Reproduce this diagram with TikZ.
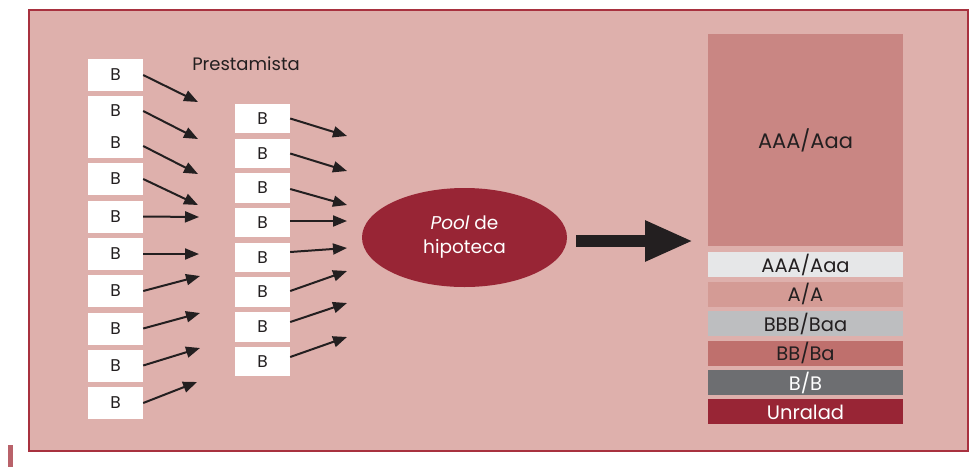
\documentclass[tikz,border=0pt]{standalone}
\usepackage{fontspec}
\setmainfont{Poppins}
\usepackage{tikz}
\usetikzlibrary{arrows.meta,positioning,shapes.geometric}
\definecolor{ink}{HTML}{231F20}
\definecolor{panel}{HTML}{DEB0AC}
\definecolor{frame}{HTML}{A8313F}
\definecolor{stub}{HTML}{B9626A}
\definecolor{wine}{HTML}{982535}
\definecolor{rose}{HTML}{C98683}
\definecolor{cloud}{HTML}{E6E7E8}
\definecolor{blush}{HTML}{D49B95}
\definecolor{silver}{HTML}{BDBEC0}
\definecolor{clay}{HTML}{BF706D}
\definecolor{slate}{HTML}{6D6E71}
\newcommand{\fsz}[2]{\fontsize{#1}{#2}\selectfont}

\begin{document}
\begin{tikzpicture}[
  x=1pt,y=-1pt,
  every node/.style={font=\fsz{17}{20},text=ink},
  bbox/.style={fill=white,minimum width=55pt,minimum height=32pt,inner sep=0pt},
  mbox/.style={bbox,minimum height=29.5pt},
  tier/.style={minimum width=195pt,minimum height=25pt,inner sep=0pt,font=\fsz{19.5}{21}},
  arr/.style={-{Triangle[length=14pt,width=11pt]},draw=ink,line width=2pt},
  bigarr/.style={-{Triangle[length=48pt,width=38pt]},draw=ink,line width=11.5pt}
]
\useasboundingbox (0,0) rectangle (978,467);
\draw[draw=frame,fill=panel,line width=2pt] (29,10) rectangle (968,451);
\fill[stub] (8,445) rectangle (13,467);

% borrowers
\node[bbox] (l1) at (115.5,75) {B};
\node[bbox,minimum height=62pt,align=center,font=\fsz{17}{32}] (l2) at (115.5,127) {B\\B};
\foreach \n/\y in {3/179,4/216.5,5/254,6/291,7/328.5,8/365.5,9/403}
  \node[bbox] (l\n) at (115.5,\y) {B};
\foreach \n/\x/\y in {1/198/102,2/198/139,3/198/174,4/198/205,5/199/217,6/199/254,7/200/276,8/200/313,9/200/348,10/197/382}
  \coordinate (e\n) at (\x,\y);
\draw[arr] (l1.east) -- (e1);
\draw[arr] ([yshift=16pt]l2.east) -- (e2);
\draw[arr] ([yshift=-19pt]l2.east) -- (e3);
\foreach \a/\b in {3/4,4/5,5/6,6/7,7/8,8/9,9/10}
  \draw[arr] (l\a.east) -- (e\b);

\node[font=\fsz{18}{20}] (lender) at (246,64) {Prestamista};

% lenders
\foreach \n/\y in {1/118.5,2/153.5,3/188,4/222.5,5/257.5,6/292,7/327,8/361.5}
  \node[mbox] (m\n) at (262.5,\y) {B};
\foreach \n/\y in {1/136,2/171,3/205,4/221,5/248,6/271,7/303,8/337}
  \coordinate (f\n) at (347,\y);
\foreach \n/\s in {1/0,2/0,3/-1,4/1.5,5/5.5,6/1,7/5,8/4.5}
  \draw[arr] ([yshift=\s pt]m\n.east) -- (f\n);

% pool
\node[ellipse,fill=wine,minimum width=205pt,minimum height=99pt,inner sep=0pt,
  text=white,align=center,font=\fsz{18.5}{24}] (pool) at (464.5,237.5) {\textit{Pool} de\\hipoteca};
\coordinate (tip) at (693,241);
\draw[bigarr] ([xshift=9pt,yshift=-3.5pt]pool.east) -- (tip);

% tranches
\node[fill=rose,minimum width=195pt,minimum height=212pt,inner sep=0pt,font=\fsz{21}{24}] (senior) at (805.5,140) {AAA/Aaa};
\node[tier,fill=cloud,below=6pt of senior] (t1) {AAA/Aaa};
\node[tier,fill=blush,below=4pt of t1] (t2) {A/A};
\node[tier,fill=silver,below=4pt of t2] (t3) {BBB/Baa};
\node[tier,fill=clay,below=4pt of t3] (t4) {BB/Ba};
\node[tier,fill=slate,text=white,below=4pt of t4] (t5) {B/B};
\node[tier,fill=wine,text=white,below=4pt of t5] (t6) {Unralad};
\end{tikzpicture}
\end{document}
